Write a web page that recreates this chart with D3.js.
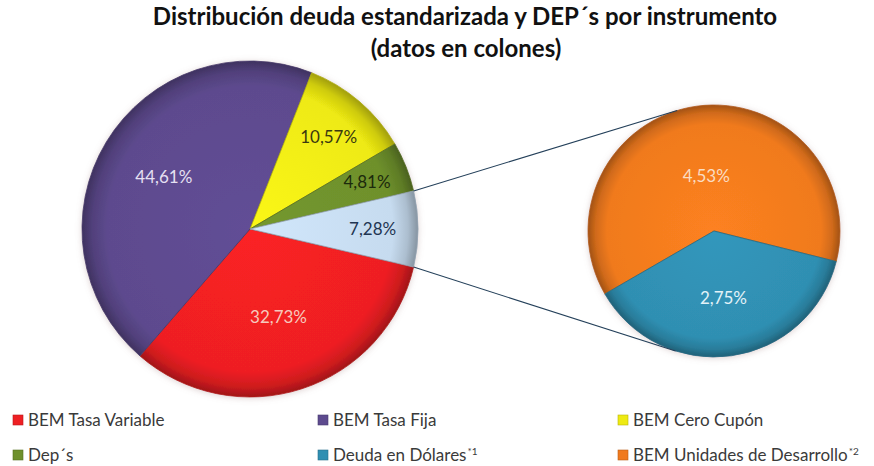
<!DOCTYPE html>
<html>
<head>
<meta charset="utf-8">
<script src="https://cdn.jsdelivr.net/npm/d3@7"></script>
<style>
  body { margin: 0; background: #fff; }
  svg { display: block; font-family: Lato, "Open Sans", sans-serif; }
</style>
</head>
<body>
<div id="chart"></div>
<script>
// main pie: the last slice ("Otros") is broken out into the small pie
var mainNames = ["BEM Tasa Variable", "BEM Tasa Fija", "BEM Cero Cupón", "Dep´s", "Otros"]
var mainValues = [32.73, 44.61, 10.57, 4.81, 7.28]
var subNames = ["BEM Unidades de Desarrollo", "Deuda en Dólares"]
var subValues = [4.53, 2.75]

var legendNames = ["BEM Tasa Variable", "BEM Tasa Fija", "BEM Cero Cupón", "Dep´s", "Deuda en Dólares", "BEM Unidades de Desarrollo"]
var legendNotes = ["", "", "", "", "*1", "*2"]

var colors = {
    "BEM Tasa Variable": "#ee1f23",
    "BEM Tasa Fija": "#5d4a8e",
    "BEM Cero Cupón": "#eeea12",
    "Dep´s": "#6e902c",
    "Otros": "#c6dbef",
    "Deuda en Dólares": "#2f8fb2",
    "BEM Unidades de Desarrollo": "#f07a1e"
}
var labelColors = {
    "BEM Tasa Variable": "#f6c9bd",
    "BEM Tasa Fija": "#e6e0f2",
    "BEM Cero Cupón": "#3a3810",
    "Dep´s": "#1c2a0c",
    "Otros": "#1f3552",
    "Deuda en Dólares": "#e3f2f8",
    "BEM Unidades de Desarrollo": "#fadcc2"
}
// how far out each label sits (fraction of radius), roughly like excel's best fit
var mainLabelR = [0.55, 0.6, 0.72, 0.75, 0.73]
var subLabelR = [0.44, 0.54]

width = 874
height = 466
var fmt = function (v) { return d3.format(".2f")(v).replace(".", ",") + "%" }
var rad = function (deg) { return deg * Math.PI / 180 }

var svg = d3.select("#chart").append("svg")
    .attr("width", width).attr("height", height)
svg.append("rect").attr("width", width).attr("height", height).attr("fill", "#fff")

var defs = svg.append("defs")
var shadow = defs.append("filter").attr("id", "shadow")
    .attr("x", "-20%").attr("y", "-20%").attr("width", "140%").attr("height", "140%")
shadow.append("feDropShadow").attr("dx", 0).attr("dy", 1).attr("stdDeviation", 3)
    .attr("flood-color", "#a08080").attr("flood-opacity", 0.35)

// bevel-ish look: darken towards the rim
function rimGradient(id, color, r) {
    var g = defs.append("radialGradient").attr("id", id)
        .attr("gradientUnits", "userSpaceOnUse")
        .attr("cx", 0).attr("cy", 0).attr("r", r)
    var c = d3.color(color)
    g.append("stop").attr("offset", "0%").attr("stop-color", c.brighter(0.15))
    g.append("stop").attr("offset", "85%").attr("stop-color", c)
    g.append("stop").attr("offset", "94%").attr("stop-color", c.darker(0.4))
    g.append("stop").attr("offset", "100%").attr("stop-color", c.darker(1.1))
}

function centroidAt(d, r) {
    var a = (d.startAngle + d.endAngle) / 2
    return [r * Math.sin(a), -r * Math.cos(a)]
}

// title
var title = svg.append("text")
    .attr("text-anchor", "middle")
    .attr("font-weight", "bold")
    .attr("font-size", 24)
    .attr("fill", "#111")
title.append("tspan").attr("x", 465).attr("y", 25)
    .text("Distribución deuda estandarizada y DEP´s por instrumento")
title.append("tspan").attr("x", 466).attr("y", 57)
    .text("(datos en colones)")

// main pie
var mainC = [250, 229], mainR = 168
var otherHalf = 360 * mainValues[4] / 100 / 2   // "Otros" centred on 3 o'clock
var mainPie = d3.pie().sort(null)
    .startAngle(rad(90 + otherHalf)).endAngle(rad(450 + otherHalf))
var mainArcs = mainPie(mainValues)
var arc = d3.arc().innerRadius(0).outerRadius(mainR)

var gMain = svg.append("g")
    .attr("transform", "translate(" + mainC[0] + "," + mainC[1] + ")")
mainNames.forEach(function (n, i) { rimGradient("gm" + i, colors[n], mainR) })
gMain.append("g").attr("filter", "url(#shadow)")
    .selectAll("path")
    .data(mainArcs)
    .enter()
    .append("path")
    .attr("d", arc)
    .attr("fill", function (d, i) { return "url(#gm" + i + ")" })
    .attr("stroke", function (d, i) { return d3.color(colors[mainNames[i]]).darker(0.8) })
    .attr("stroke-width", 0.8)
gMain.selectAll("text")
    .data(mainArcs)
    .enter()
    .append("text")
    .attr("transform", function (d, i) { return "translate(" + centroidAt(d, mainR * mainLabelR[i]) + ")" })
    .attr("text-anchor", "middle")
    .attr("dy", "0.35em")
    .attr("font-size", 17)
    .attr("fill", function (d, i) { return labelColors[mainNames[i]] })
    .text(function (d) { return fmt(d.data) })

// secondary pie
var subC = [714, 231], subR = 126
var subPie = d3.pie().sort(null).startAngle(rad(240)).endAngle(rad(600))
var subArcs = subPie(subValues)
var subArc = d3.arc().innerRadius(0).outerRadius(subR)

var gSub = svg.append("g")
    .attr("transform", "translate(" + subC[0] + "," + subC[1] + ")")
subNames.forEach(function (n, i) { rimGradient("gs" + i, colors[n], subR) })
gSub.append("g").attr("filter", "url(#shadow)")
    .selectAll("path")
    .data(subArcs)
    .enter()
    .append("path")
    .attr("d", subArc)
    .attr("fill", function (d, i) { return "url(#gs" + i + ")" })
    .attr("stroke", function (d, i) { return d3.color(colors[subNames[i]]).darker(0.8) })
    .attr("stroke-width", 0.8)
gSub.selectAll("text")
    .data(subArcs)
    .enter()
    .append("text")
    .attr("transform", function (d, i) { return "translate(" + centroidAt(d, subR * subLabelR[i]) + ")" })
    .attr("text-anchor", "middle")
    .attr("dy", "0.35em")
    .attr("font-size", 17)
    .attr("fill", function (d, i) { return labelColors[subNames[i]] })
    .text(function (d) { return fmt(d.data) })

// connector lines: from the edges of "Otros" tangent to the secondary pie
var other = mainArcs[4]
;[other.startAngle, other.endAngle].forEach(function (a, k) {
    var p = [mainC[0] + mainR * Math.sin(a), mainC[1] - mainR * Math.cos(a)]
    var dx = subC[0] - p[0], dy = subC[1] - p[1]
    var d = Math.sqrt(dx * dx + dy * dy)
    var base = Math.atan2(dy, dx)
    // startAngle is the upper edge -> upper tangent (negative turn on screen)
    var off = Math.asin(subR / d) * (k == 0 ? -1 : 1)
    var len = Math.sqrt(d * d - subR * subR)
    var q = [p[0] + len * Math.cos(base + off), p[1] + len * Math.sin(base + off)]
    svg.append("line")
        .attr("x1", p[0]).attr("y1", p[1])
        .attr("x2", q[0]).attr("y2", q[1])
        .attr("stroke", "#24405a")
        .attr("stroke-width", 1.1)
})

// legend, 3 columns x 2 rows
var colX = [13, 318, 618]
var rowY = [420, 455]
var gLegend = svg.append("g")
legendNames.forEach(function (n, i) {
    var x = colX[i % 3], y = rowY[Math.floor(i / 3)]
    var item = gLegend.append("g").attr("transform", "translate(" + x + "," + y + ")")
    item.append("rect")
        .attr("x", 0).attr("y", -5).attr("width", 10).attr("height", 10)
        .attr("fill", colors[n])
        .attr("stroke", d3.color(colors[n]).darker(0.7)).attr("stroke-width", 0.6)
    var t = item.append("text")
        .attr("x", 15).attr("dy", "0.36em")
        .attr("font-size", 17)
        .attr("fill", "#3a3a3a")
        .text(n)
    if (legendNotes[i]) {
        t.append("tspan").attr("font-size", 10).attr("dy", -6).attr("dx", 1).text(legendNotes[i])
    }
})
</script>
</body>
</html>
